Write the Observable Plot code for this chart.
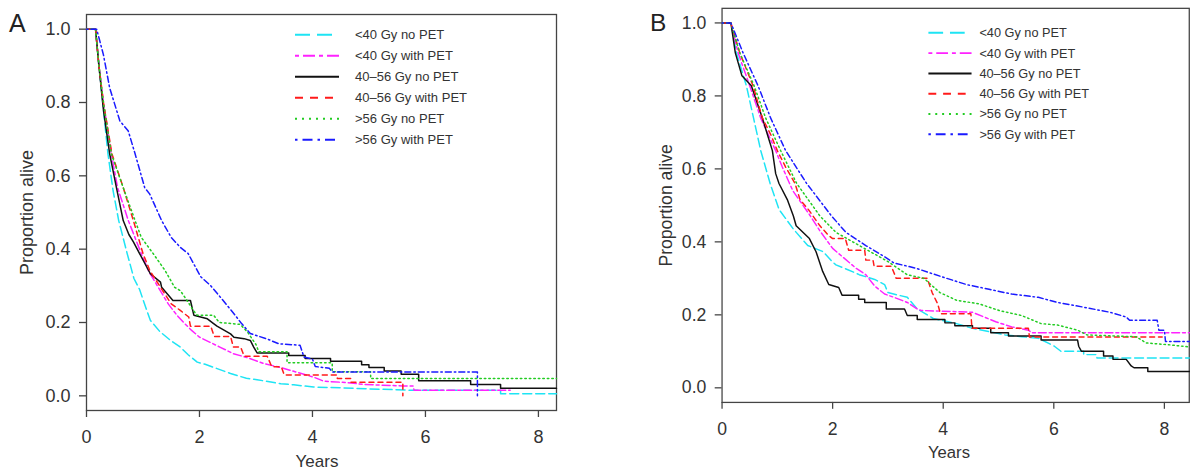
<!DOCTYPE html>
<html><head><meta charset="utf-8">
<script src="https://cdn.jsdelivr.net/npm/d3@7"></script>
<script src="https://cdn.jsdelivr.net/npm/@observablehq/plot@0.6"></script>
<style>
html,body{margin:0;padding:0;background:#fff;overflow:hidden;width:1198px;height:470px;}
#wrap{position:relative;width:1198px;height:470px;overflow:hidden;}
.panel{position:absolute;top:0;}
</style></head><body>
<div id="wrap"><div class="panel" id="pa" style="left:0"></div><div class="panel" id="pb" style="left:600px"></div></div>
<script>
// ---- data ----
const seriesNames = ["<40 Gy no PET", "<40 Gy with PET", "40\u201356 Gy no PET", "40\u201356 Gy with PET", ">56 Gy no PET", ">56 Gy with PET"];
const panelLetters = ["A", "B"];
const xTicks = [0, 2, 4, 6, 8];
const yTicks = [0, 0.2, 0.4, 0.6, 0.8, 1.0];
const xLabel = "Years";
const yLabel = "Proportion alive";

// Panel A: [years, proportion alive]
const A_lt40_noPET = [[0,1],[0.16,1],[0.22,0.9],[0.3,0.78],[0.38,0.66],[0.47,0.56],[0.57,0.478],[0.72,0.388],[0.84,0.32],[0.94,0.29],[1.04,0.245],[1.13,0.206],[1.3,0.175],[1.49,0.151],[1.66,0.133],[1.8,0.112],[1.96,0.092],[2.1,0.086],[2.3,0.075],[2.55,0.061],[2.83,0.048],[3.02,0.044],[3.44,0.033],[3.67,0.03],[4.02,0.024],[4.5,0.022],[5.0,0.019],[5.8,0.015],[7.33,0.015],[7.33,0.006],[8.32,0.006]];
const A_lt40_PET = [[0,1],[0.16,1],[0.22,0.9],[0.3,0.8],[0.44,0.66],[0.55,0.568],[0.74,0.478],[0.97,0.388],[1.1,0.34],[1.27,0.296],[1.45,0.25],[1.6,0.22],[1.72,0.2],[1.85,0.18],[2.0,0.16],[2.36,0.133],[2.6,0.115],[2.85,0.104],[3.14,0.088],[3.44,0.077],[3.6,0.07],[4.02,0.051],[4.2,0.04],[4.62,0.036],[4.91,0.031],[5.6,0.027],[5.78,0.027],[5.8,0.015],[7.5,0.015]];
const A_40to56_noPET = [[0,1],[0.16,1],[0.22,0.9],[0.3,0.78],[0.41,0.66],[0.53,0.568],[0.65,0.478],[0.75,0.44],[0.83,0.42],[0.94,0.388],[1.13,0.333],[1.31,0.31],[1.33,0.296],[1.53,0.26],[1.84,0.26],[1.9,0.22],[2.02,0.215],[2.14,0.21],[2.25,0.197],[2.31,0.19],[2.55,0.169],[2.61,0.16],[2.79,0.156],[2.9,0.151],[2.96,0.133],[3.02,0.117],[3.58,0.117],[3.58,0.11],[3.87,0.11],[3.87,0.102],[4.32,0.102],[4.32,0.094],[4.87,0.094],[4.87,0.085],[5.0,0.085],[5.0,0.077],[5.27,0.077],[5.27,0.068],[5.57,0.068],[5.57,0.059],[5.88,0.059],[5.88,0.041],[6.8,0.041],[6.8,0.031],[7.33,0.031],[7.33,0.021],[8.32,0.021]];
const A_40to56_PET = [[0,1],[0.16,1],[0.22,0.9],[0.3,0.8],[0.45,0.66],[0.65,0.568],[0.83,0.478],[1.0,0.388],[1.12,0.342],[1.31,0.296],[1.5,0.251],[1.66,0.233],[1.81,0.215],[1.84,0.19],[2.2,0.19],[2.26,0.162],[2.55,0.162],[2.6,0.133],[2.73,0.133],[2.79,0.108],[3.2,0.108],[3.28,0.079],[3.45,0.079],[3.5,0.057],[4.44,0.057],[4.44,0.047],[4.68,0.047],[4.68,0.037],[5.6,0.037],[5.6,0.0]];
const A_gt56_noPET = [[0,1],[0.16,1],[0.22,0.9],[0.3,0.8],[0.44,0.66],[0.65,0.568],[0.86,0.478],[0.97,0.432],[1.18,0.388],[1.39,0.342],[1.56,0.296],[1.66,0.287],[1.74,0.269],[1.84,0.246],[1.89,0.233],[1.96,0.22],[2.25,0.22],[2.35,0.2],[2.72,0.195],[2.85,0.174],[3.0,0.14],[3.05,0.12],[3.55,0.12],[3.55,0.09],[4.35,0.09],[4.35,0.066],[5.03,0.066],[5.03,0.047],[8.32,0.047]];
const A_gt56_PET = [[0,1],[0.18,1],[0.3,0.93],[0.41,0.84],[0.59,0.75],[0.74,0.722],[0.86,0.66],[1.03,0.568],[1.12,0.55],[1.33,0.478],[1.5,0.432],[1.66,0.405],[1.8,0.388],[2.02,0.325],[2.2,0.3],[2.37,0.269],[2.61,0.224],[2.73,0.2],[2.9,0.17],[3.2,0.155],[3.4,0.142],[3.78,0.138],[3.85,0.106],[4.0,0.1],[4.05,0.08],[4.3,0.075],[4.35,0.065],[6.92,0.065],[6.92,0.0]];

// Panel B
const B_lt40_noPET = [[0,1],[0.16,1],[0.26,0.918],[0.44,0.828],[0.57,0.739],[0.7,0.65],[0.87,0.56],[1.03,0.489],[1.29,0.435],[1.55,0.39],[1.83,0.373],[1.99,0.346],[2.06,0.337],[2.41,0.315],[2.48,0.31],[2.76,0.297],[2.94,0.283],[3.0,0.261],[3.35,0.248],[3.53,0.216],[3.82,0.19],[4.24,0.176],[4.53,0.163],[5.12,0.145],[5.42,0.14],[5.72,0.136],[6.01,0.114],[6.13,0.1],[6.54,0.1],[6.54,0.091],[6.78,0.091],[6.78,0.082],[8.45,0.082]];
const B_lt40_PET = [[0,1],[0.16,1],[0.29,0.918],[0.5,0.828],[0.7,0.739],[0.97,0.65],[1.09,0.605],[1.28,0.54],[1.58,0.475],[1.77,0.43],[2.0,0.382],[2.42,0.328],[2.6,0.31],[2.76,0.279],[2.94,0.257],[3.11,0.248],[3.35,0.234],[3.53,0.216],[3.6,0.212],[4.53,0.207],[4.95,0.181],[5.24,0.167],[5.54,0.158],[5.6,0.151],[8.45,0.151]];
const B_40to56_noPET = [[0,1],[0.16,1],[0.24,0.918],[0.36,0.855],[0.53,0.828],[0.73,0.739],[0.82,0.694],[0.91,0.65],[0.97,0.587],[1.03,0.56],[1.18,0.516],[1.29,0.471],[1.34,0.444],[1.58,0.409],[1.7,0.373],[1.82,0.319],[1.93,0.283],[2.11,0.275],[2.17,0.254],[2.47,0.254],[2.47,0.243],[2.58,0.243],[2.58,0.234],[2.97,0.234],[2.97,0.216],[3.3,0.216],[3.35,0.198],[3.53,0.198],[3.53,0.187],[4.03,0.187],[4.03,0.178],[4.21,0.178],[4.21,0.17],[4.53,0.17],[4.53,0.163],[4.86,0.163],[4.86,0.151],[5.18,0.151],[5.18,0.142],[5.77,0.142],[5.77,0.131],[6.43,0.131],[6.45,0.114],[6.5,0.1],[6.9,0.1],[6.9,0.087],[7.07,0.087],[7.07,0.078],[7.31,0.078],[7.4,0.06],[7.45,0.055],[7.7,0.055],[7.7,0.045],[8.45,0.045]];
const B_40to56_PET = [[0,1],[0.16,1],[0.32,0.918],[0.56,0.828],[0.73,0.739],[0.88,0.694],[1.0,0.65],[1.15,0.605],[1.32,0.56],[1.41,0.516],[1.56,0.489],[1.77,0.444],[1.93,0.417],[2.0,0.409],[2.23,0.409],[2.29,0.377],[2.58,0.377],[2.6,0.35],[2.73,0.35],[2.75,0.333],[3.06,0.333],[3.1,0.319],[3.15,0.3],[3.71,0.3],[3.8,0.261],[3.9,0.23],[3.95,0.203],[4.5,0.203],[4.52,0.163],[5.54,0.163],[5.56,0.139],[7.96,0.139]];
const B_gt56_noPET = [[0,1],[0.16,1],[0.32,0.918],[0.58,0.828],[0.79,0.739],[1.06,0.65],[1.35,0.56],[1.77,0.471],[2.06,0.426],[2.54,0.385],[3.0,0.346],[3.35,0.31],[3.65,0.3],[3.94,0.261],[4.24,0.24],[4.65,0.23],[5.01,0.212],[5.42,0.198],[5.77,0.176],[6.07,0.172],[6.43,0.158],[6.6,0.145],[7.49,0.14],[7.67,0.123],[8.08,0.118],[8.45,0.112]];
const B_gt56_PET = [[0,1],[0.16,1],[0.38,0.918],[0.65,0.828],[0.88,0.739],[1.15,0.65],[1.53,0.56],[1.98,0.471],[2.24,0.426],[2.6,0.39],[2.94,0.359],[3.11,0.342],[3.5,0.328],[3.94,0.306],[4.42,0.283],[4.83,0.27],[5.24,0.257],[5.72,0.248],[6.07,0.234],[6.54,0.221],[7.02,0.207],[7.31,0.194],[7.37,0.185],[7.87,0.185],[7.9,0.158],[8.0,0.158],[8.02,0.127],[8.45,0.127]];

const panelA = [A_lt40_noPET, A_lt40_PET, A_40to56_noPET, A_40to56_PET, A_gt56_noPET, A_gt56_PET];
const panelB = [B_lt40_noPET, B_lt40_PET, B_40to56_noPET, B_40to56_PET, B_gt56_noPET, B_gt56_PET];

// ---- styles ----
const colors = ["#1ee4f4", "#ff22ff", "#111111", "#ff1a1a", "#22cc22", "#1a1aff"];
const curveDash = ["9,4", "3,3,8,3", null, "5,4", "1.5,3", "1.5,3,6,3"];
const legendDash = ["15,7", "4,4,12,4", null, "8,7", "2,5", "2.5,5,10,5"];
const FONT = "'Liberation Sans', Arial, Helvetica, sans-serif";

function drawPanel(el, cfg) {
  const rows = [];
  cfg.curves.forEach((pts, i) => pts.forEach(([t, s]) => rows.push({t, s, g: seriesNames[i]})));
  const marks = [
    Plot.frame({stroke: "#444", strokeWidth: 1.3}),
    Plot.axisX({ticks: xTicks, tickSize: 7, tickPadding: 13, tickFormat: d => String(d), stroke: "#444", strokeWidth: 1.3,
      fontSize: 18, label: null}),
    Plot.axisY({ticks: yTicks, tickSize: 7, tickPadding: 9, tickFormat: d3.format(".1f"), stroke: "#444", strokeWidth: 1.3,
      fontSize: 18, label: yLabel, labelAnchor: "center", labelOffset: cfg.yLabelOffset, labelArrow: "none"})
  ];
  seriesNames.forEach((name, i) => {
    marks.push(Plot.line(rows.filter(r => r.g === name), {x: "t", y: "s", stroke: colors[i], strokeWidth: 1.5,
      strokeDasharray: curveDash[i] || undefined, curve: "linear"}));
  });
  const svg = Plot.plot({
    width: cfg.width, height: 470,
    marginLeft: cfg.marginLeft, marginRight: cfg.marginRight, marginTop: cfg.marginTop, marginBottom: 60,
    style: {fontFamily: FONT, fontSize: "17px", color: "#333", background: "transparent", overflow: "visible"},
    x: {domain: [0, cfg.xMax]},
    y: {domain: [-0.04, 1.04]},
    marks
  });
  const s = d3.select(svg);
  s.append("text").attr("x", cfg.letterX).attr("y", 32).attr("font-size", 25).attr("font-family", FONT)
    .attr("text-anchor", "start").attr("fill", "#222").text(cfg.letter);
  s.append("text").attr("x", cfg.yearsX).attr("y", 467).attr("font-size", 17).attr("font-family", FONT)
    .attr("text-anchor", "middle").attr("fill", "#333").text(xLabel);
  const lg = s.append("g");
  seriesNames.forEach((name, i) => {
    const y = cfg.legendY0 + i * cfg.legendDy;
    lg.append("line").attr("x1", cfg.legendX).attr("x2", cfg.legendX + 44).attr("y1", y).attr("y2", y)
      .attr("stroke", colors[i]).attr("stroke-width", 2).attr("stroke-dasharray", legendDash[i]);
    lg.append("text").attr("x", cfg.legendX + cfg.legendTextGap).attr("y", y).attr("dy", "0.35em")
      .attr("text-anchor", "start").attr("font-size", 13).attr("font-family", FONT).attr("fill", "#333").text(name);
  });
  el.appendChild(svg);
}

drawPanel(document.getElementById("pa"), {curves: panelA, width: 600, marginLeft: 86, marginRight: 44, marginTop: 14,
  xMax: 8.32, yLabelOffset: 66, letter: panelLetters[0], letterX: 9, yearsX: 317, legendX: 295, legendTextGap: 60, legendY0: 34.7, legendDy: 21});
drawPanel(document.getElementById("pb"), {curves: panelB, width: 610, marginLeft: 124, marginRight: 9.4, marginTop: 8,
  xMax: 8.45, yLabelOffset: 64, letter: panelLetters[1], letterX: 51, yearsX: 356, legendX: 335, legendTextGap: 52, legendY0: 33.5, legendDy: 20.7});
</script>
</body></html>
